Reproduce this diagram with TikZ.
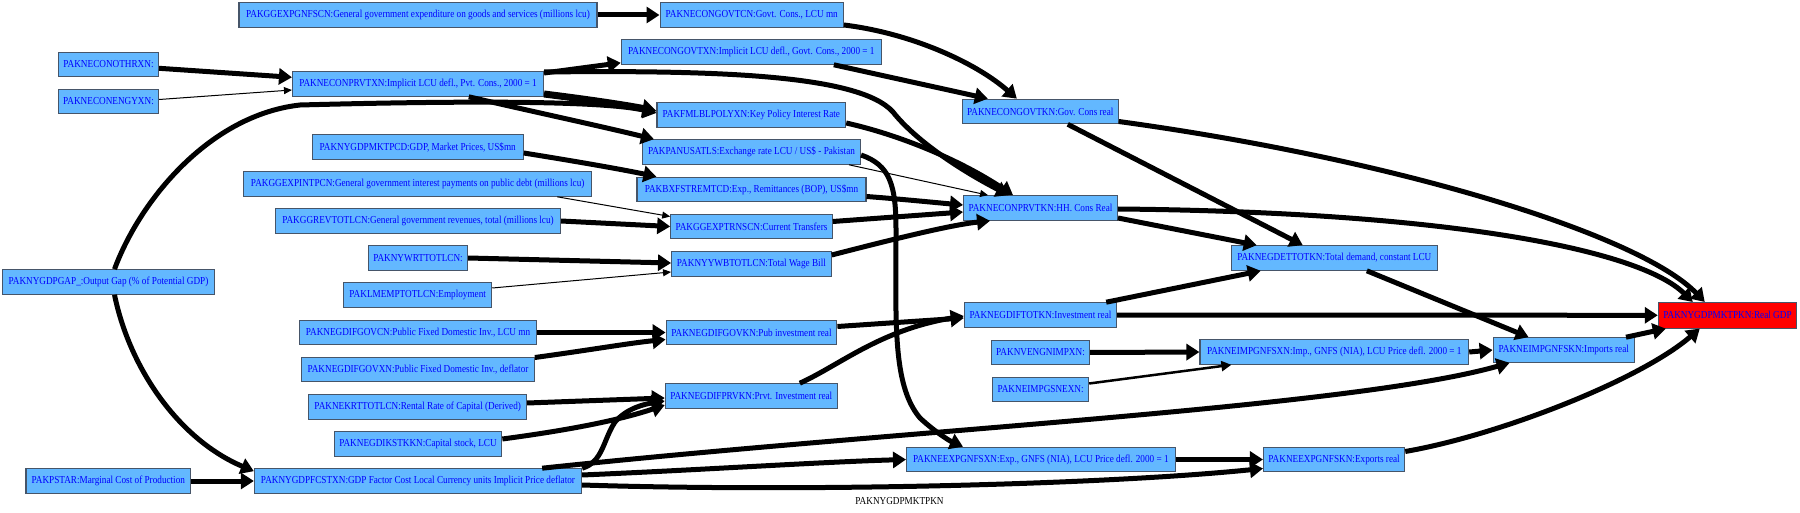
\documentclass[tikz,border=0pt]{standalone}
\usepackage{fontspec}
\setmainfont{Liberation Serif}
\newfontfamily\nodefam[FakeStretch=0.86]{Liberation Serif}
\usetikzlibrary{arrows.meta,calc}
\definecolor{boxc}{RGB}{99,184,255}
\definecolor{bordc}{RGB}{70,85,105}
\definecolor{txtc}{RGB}{0,0,255}
\newcommand{\nfont}{\nodefam\fontsize{10.7}{11}\selectfont}
\tikzset{
  box/.style={draw=bordc, fill=boxc, text=txtc, font=\nfont, minimum height=24.5pt, inner sep=0pt, line width=1.1pt},
  redbox/.style={box, fill=red, minimum height=25.5pt},
  thk/.style={line width=5pt, -{Triangle[length=13pt,width=16pt]}},
  vthk/.style={line width=7pt, -{Triangle[length=14pt,width=18pt]}},
  thn/.style={line width=1pt, -{Triangle[length=8pt,width=7pt]}},
  med/.style={line width=2.5pt, -{Triangle[length=10pt,width=10pt]}},
}
\begin{document}
\begin{tikzpicture}[x=1pt,y=-1pt]
\useasboundingbox[fill=white] (0,0) rectangle (1800,513);
% column A
\node[box, minimum width=100pt] (othr) at (108.5,64.5) {PAKNECONOTHRXN:};
\node[box, minimum width=100pt] (engy) at (108.5,101.5) {PAKNECONENGYXN:};
\node[box, minimum width=211.6pt] (gap) at (108.5,282) {PAKNYGDPGAP\_:Output Gap (\% of Potential GDP)};
\node[box, minimum width=164.6pt] (pstar) at (108.3,481) {PAKPSTAR:Marginal Cost of Production};
% column B
\node[box, minimum width=358pt] (ggexpgnfs) at (418,15) {PAKGGEXPGNFSCN:General government expenditure on goods and services (millions lcu)};
\node[box, minimum width=251pt] (conprvtxn) at (418,84) {PAKNECONPRVTXN:Implicit LCU defl., Pvt. Cons., 2000 = 1};
\node[box, minimum width=211pt] (mktpcd) at (417.7,147) {PAKNYGDPMKTPCD:GDP, Market Prices, US\$mn};
\node[box, minimum width=348pt] (expint) at (417.7,184) {PAKGGEXPINTPCN:General government interest payments on public debt (millions lcu)};
\node[box, minimum width=285pt] (revtot) at (418,221) {PAKGGREVTOTLCN:General government revenues, total (millions lcu)};
\node[box, minimum width=99pt] (wrt) at (418,258) {PAKNYWRTTOTLCN:};
\node[box, minimum width=148pt] (lmemp) at (417.7,295) {PAKLMEMPTOTLCN:Employment};
\node[box, minimum width=237pt] (difgovcn) at (418,332.5) {PAKNEGDIFGOVCN:Public Fixed Domestic Inv., LCU mn};
\node[box, minimum width=232.6pt] (difgovxn) at (418,369.5) {PAKNEGDIFGOVXN:Public Fixed Domestic Inv., deflator};
\node[box, minimum width=217.8pt] (krt) at (417.7,407) {PAKNEKRTTOTLCN:Rental Rate of Capital (Derived)};
\node[box, minimum width=167.6pt] (kstk) at (418,444) {PAKNEGDIKSTKKN:Capital stock, LCU};
\node[box, minimum width=327.2pt] (fcstxn) at (418,481) {PAKNYGDPFCSTXN:GDP Factor Cost Local Currency units Implicit Price deflator};
% column C
\node[box, minimum width=183.3pt] (congovtcn) at (751.7,15) {PAKNECONGOVTCN:Govt. Cons., LCU mn};
\node[box, minimum width=260pt] (congovtxn) at (751.3,52) {PAKNECONGOVTXN:Implicit LCU defl., Govt. Cons., 2000 = 1};
\node[box, minimum width=188.7pt] (fml) at (751.3,115) {PAKFMLBLPOLYXN:Key Policy Interest Rate};
\node[box, minimum width=218pt] (panusatls) at (751.5,152) {PAKPANUSATLS:Exchange rate LCU / US\$ - Pakistan};
\node[box, minimum width=229pt] (bxfs) at (751.5,189.5) {PAKBXFSTREMTCD:Exp., Remittances (BOP), US\$mn};
\node[box, minimum width=161.5pt] (ggexptrns) at (751.5,226.5) {PAKGGEXPTRNSCN:Current Transfers};
\node[box, minimum width=159.6pt] (yywb) at (751.4,264) {PAKNYYWBTOTLCN:Total Wage Bill};
\node[box, minimum width=170.7pt] (difgovkn) at (751.5,332.5) {PAKNEGDIFGOVKN:Pub investment real};
\node[box, minimum width=171.9pt] (difprvkn) at (751.3,396) {PAKNEGDIFPRVKN:Prvt. Investment real};
% column D
\node[box, minimum width=155.8pt] (congovtkn) at (1040.3,111.5) {PAKNECONGOVTKN:Gov. Cons real};
\node[box, minimum width=153.8pt] (conprvtkn) at (1040.5,208) {PAKNECONPRVTKN:HH. Cons Real};
\node[box, minimum width=152.3pt] (diftotkn) at (1040.5,315) {PAKNEGDIFTOTKN:Investment real};
\node[box, minimum width=98pt] (nvengn) at (1040.5,352.5) {PAKNVENGNIMPXN:};
\node[box, minimum width=96pt] (neimpgsn) at (1040.6,389.5) {PAKNEIMPGSNEXN:};
\node[box, minimum width=268.7pt] (eexpgnfsxn) at (1040.9,459.5) {PAKNEEXPGNFSXN:Exp., GNFS (NIA), LCU Price defl. 2000 = 1};
% column E
\node[box, minimum width=206pt] (gdettotkn) at (1334.3,258) {PAKNEGDETTOTKN:Total demand, constant LCU};
\node[box, minimum width=268.7pt] (eimpgnfsxn) at (1334.3,352) {PAKNEIMPGNFSXN:Imp., GNFS (NIA), LCU Price defl. 2000 = 1};
\node[box, minimum width=141.2pt] (eexpgnfskn) at (1334.1,459.5) {PAKNEEXPGNFSKN:Exports real};
% column F, G
\node[box, minimum width=141.3pt] (eimpgnfskn) at (1563.8,350) {PAKNEIMPGNFSKN:Imports real};
\node[redbox, minimum width=138.4pt] (realgdp) at (1727.5,315.3) {PAKNYGDPMKTPKN:Real GDP};
\node[font=\nfont, text=black, inner sep=0pt] (caption) at (899.5,501) {PAKNYGDPMKTPKN};

% edges
\draw[thk] (ggexpgnfs.east) -- (congovtcn.west);
\draw[thk] ($(othr.east)+(0,3.8)$) -- ($(conprvtxn.west)+(0,-6.7)$);
\draw[thn] ($(engy.east)+(0,-2)$) -- ($(conprvtxn.west)+(0,6)$);
\draw[thk] ($(conprvtxn.east)+(0,-11)$) -- ($(congovtxn.south west)+(0,-2)$);
\draw[thk] ($(conprvtxn.east)+(0,-12)$) .. controls (720,70) and (860,75) .. (893,112)
   .. controls (915,140) and (960,170) .. ($(conprvtkn.north west)+(46,0)$);
\draw[vthk] ($(conprvtxn.east)+(0,10)$) .. controls (600,101) and (630,106) .. ($(fml.west)+(0,-4)$);
\draw[thk] ($(conprvtxn.south)+(50.8,0)$) .. controls (530,111) and (600,126) .. ($(panusatls.north west)+(12,0)$);
\draw[thk] ($(gap.north)+(6,0)$) .. controls (140,200) and (210,115) .. (300,105)
   .. controls (450,101) and (600,100) .. ($(fml.west)+(0,-2)$);
\draw[thk] ($(gap.south)+(6,0)$) .. controls (130,370) and (180,440) .. ($(fcstxn.north west)+(0,3)$);
\draw[thk] (pstar.east) -- (fcstxn.west);
\draw[thk] ($(mktpcd.east)+(0,6)$) .. controls (580,162) and (625,170) .. ($(bxfs.north west)+(20,0)$);
\draw[thn] ($(expint.south east)+(-35,0)$) -- ($(ggexptrns.west)+(0,-10)$);
\draw[thk] (revtot.east) -- (ggexptrns.west);
\draw[thk] (wrt.east) -- ($(yywb.west)+(0,-1)$);
\draw[thn] ($(lmemp.east)+(0,-7)$) -- ($(yywb.west)+(0,8)$);
\draw[thk] (difgovcn.east) -- (difgovkn.west);
\draw[thk] ($(difgovxn.east)+(0,-12)$) .. controls (590,350) and (630,343) .. ($(difgovkn.west)+(0,7)$);
\draw[thk] ($(krt.east)+(0,-4)$) -- ($(difprvkn.west)+(0,2)$);
\draw[thk] ($(kstk.east)+(0,-5)$) .. controls (570,430) and (620,420) .. ($(difprvkn.west)+(0,9)$);
\draw[thk] (fcstxn.north east) .. controls (603,462) and (603,440) .. (615,422)
   .. controls (627,408) and (645,404) .. ($(difprvkn.west)+(0,5)$);
\draw[thk] ($(fcstxn.north east)+(-40,0)$) .. controls (900,430) and (1350,408) .. ($(eimpgnfskn.south west)+(17,0)$);
\draw[thk] ($(fcstxn.east)+(0,-6)$) .. controls (700,470) and (820,462) .. (eexpgnfsxn.west);
\draw[thk] ($(fcstxn.east)+(0,4)$) .. controls (800,492) and (1100,485) .. ($(eexpgnfskn.west)+(0,9)$);
\draw[thk] ($(congovtcn.east)+(0,10)$) .. controls (910,33) and (975,62) .. ($(congovtkn.north west)+(55,0)$);
\draw[thk] ($(congovtxn.south east)+(-48,0)$) -- ($(congovtkn.north west)+(26,0)$);
\draw[thk] ($(fml.east)+(0,8)$) .. controls (900,135) and (960,160) .. ($(conprvtkn.north west)+(50,0)$);
\draw[thn] ($(panusatls.south east)+(-12,0)$) -- ($(conprvtkn.north west)+(25,0)$);
\draw[thk] ($(panusatls.east)+(0,3)$) .. controls (890,165) and (896,185) .. (896,230)
   .. controls (896,320) and (892,385) .. (920,418)
   .. controls (935,432) and (950,441) .. ($(eexpgnfsxn.north west)+(57,0)$);
\draw[thk] ($(bxfs.east)+(0,7)$) .. controls (900,199) and (940,203) .. ($(conprvtkn.west)+(0,-3)$);
\draw[thk] ($(ggexptrns.east)+(0,-5)$) -- ($(conprvtkn.west)+(0,4)$);
\draw[thk] ($(yywb.east)+(0,-9)$) .. controls (890,240) and (950,225) .. ($(conprvtkn.south west)+(27,0)$);
\draw[thk] ($(difgovkn.east)+(0,-6)$) -- ($(diftotkn.west)+(0,3)$);
\draw[thk] ($(difprvkn.north east)+(-38,0)$) .. controls (840,365) and (880,330) .. ($(diftotkn.west)+(0,1)$);
\draw[thk] ($(congovtkn.east)+(0,10)$) .. controls (1400,160) and (1640,235) .. ($(realgdp.north west)+(47,0)$);
\draw[thk] ($(congovtkn.south east)+(-51,0)$) -- ($(gdettotkn.north west)+(72,0)$);
\draw[thk] ($(conprvtkn.east)+(0,10)$) -- ($(gdettotkn.north west)+(26,0)$);
\draw[thk] ($(conprvtkn.east)+(0,1)$) .. controls (1450,212) and (1640,250) .. ($(realgdp.north west)+(35,0)$);
\draw[thk] ($(diftotkn.north east)+(-11,0)$) -- ($(gdettotkn.south west)+(30,0)$);
\draw[thk] (diftotkn.east) -- (realgdp.west);
\draw[thk] (nvengn.east) -- (eimpgnfsxn.west);
\draw[med] ($(neimpgsn.east)+(0,-6)$) -- ($(eimpgnfsxn.south west)+(32,0)$);
\draw[thk] ($(gdettotkn.south east)+(-71,0)$) -- ($(eimpgnfskn.north west)+(36,0)$);
\draw[thk] (eimpgnfsxn.east) -- (eimpgnfskn.west);
\draw[thk] (eexpgnfsxn.east) -- (eexpgnfskn.west);
\draw[thk] ($(eimpgnfskn.north east)+(-9,0)$) -- ($(realgdp.south west)+(8,0)$);
\draw[thk] ($(eexpgnfskn.east)+(0,-8)$) .. controls (1500,435) and (1640,380) .. ($(realgdp.south west)+(42,0)$);
\end{tikzpicture}
\end{document}
